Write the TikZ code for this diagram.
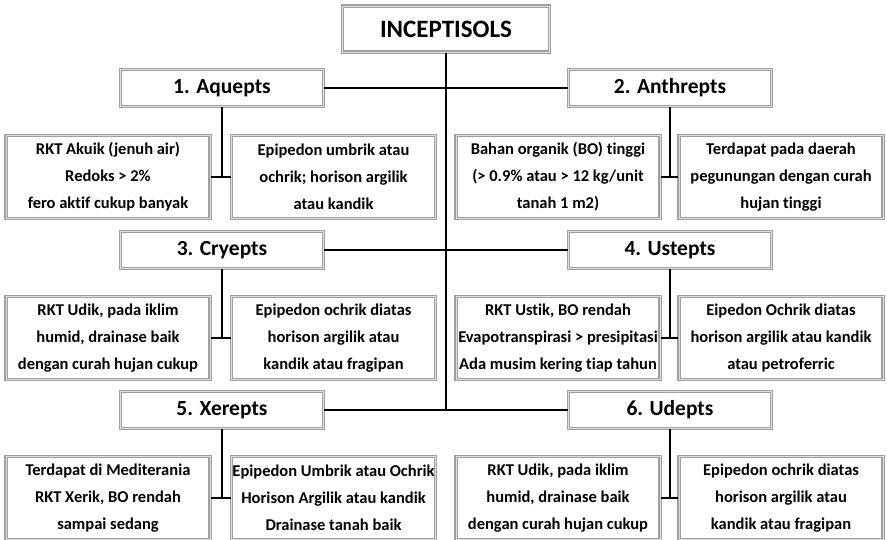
\documentclass[tikz,border=0pt]{standalone}
\usepackage{fontspec}
\setmainfont{Carlito}[Ligatures=NoCommon]
\begin{document}
\begin{tikzpicture}[x=1pt,y=-1pt,
  box/.style={draw=gray!75, line width=1.2pt, double=gray!25, double distance=0.9pt,
    fill=white, inner sep=0pt, align=center},
  rootbox/.style={box, minimum width=207pt, minimum height=46pt, font=\fontsize{25}{27}\selectfont\bfseries},
  typebox/.style={box, minimum width=203pt, minimum height=37pt, font=\fontsize{21.5}{24}\selectfont\bfseries},
  infobox/.style={box, minimum width=204pt, minimum height=83pt, font=\fontsize{16.5}{27}\selectfont\bfseries},
  conn/.style={line width=2pt, black}]
\clip (0,0) rectangle (887,539);
\fill[white] (0,0) rectangle (887,539);
% root
\node[rootbox] (inc) at (446,29) {INCEPTISOLS};
% type boxes
\node[typebox] (t1) at (222,88) {1. Aquepts};
\node[typebox] (t2) at (670,88) {2. Anthrepts};
\node[typebox] (t3) at (222,250) {3. Cryepts};
\node[typebox] (t4) at (670,250) {4. Ustepts};
\node[typebox] (t5) at (222,410) {5. Xerepts};
\node[typebox] (t6) at (670,410) {6. Udepts};
% info boxes row 1
\node[infobox] (a1) at (108,177) {RKT Akuik (jenuh air)\\Redoks > 2\%\\fero aktif cukup banyak};
\node[infobox] (b1) at (333.5,177) {Epipedon umbrik atau\\ochrik; horison argilik\\atau kandik};
\node[infobox] (a2) at (558,177) {Bahan organik (BO) tinggi\\(> 0.9\% atau > 12 kg/unit\\tanah 1 m2)};
\node[infobox] (b2) at (781,177) {Terdapat pada daerah\\pegunungan dengan curah\\hujan tinggi};
% row 2
\node[infobox] (a3) at (108,338) {RKT Udik, pada iklim\\humid, drainase baik\\dengan curah hujan cukup};
\node[infobox] (b3) at (333.5,338) {Epipedon ochrik diatas\\horison argilik atau\\kandik atau fragipan};
\node[infobox] (a4) at (558,338) {RKT Ustik, BO rendah\\Evapotranspirasi > presipitasi\\Ada musim kering tiap tahun};
\node[infobox] (b4) at (781,338) {Eipedon Ochrik diatas\\horison argilik atau kandik\\atau petroferric};
% row 3
\node[infobox] (a5) at (108,498) {Terdapat di Mediterania\\RKT Xerik, BO rendah\\sampai sedang};
\node[infobox] (b5) at (333.5,498) {Epipedon Umbrik atau Ochrik\\Horison Argilik atau kandik\\Drainase tanah baik};
\node[infobox] (a6) at (558,498) {RKT Udik, pada iklim\\humid, drainase baik\\dengan curah hujan cukup};
\node[infobox] (b6) at (781,498) {Epipedon ochrik diatas\\horison argilik atau\\kandik atau fragipan};
% trunk
\coordinate (trunkend) at (446,410);
\draw[conn] (inc.south) -- (trunkend);
\draw[conn] (t1.east) -- (t1.east -| inc.south) -- (t2.west);
\draw[conn] (t3.east) -- (t3.east -| inc.south) -- (t4.west);
\draw[conn] (t5.east) -- (t6.west);
% type to info
\foreach \i in {1,...,6}{
  \draw[conn] (t\i.south) -- (t\i.south |- a\i.east);
  \draw[conn] (a\i.east) -- (b\i.west);
}
\end{tikzpicture}
\end{document}
